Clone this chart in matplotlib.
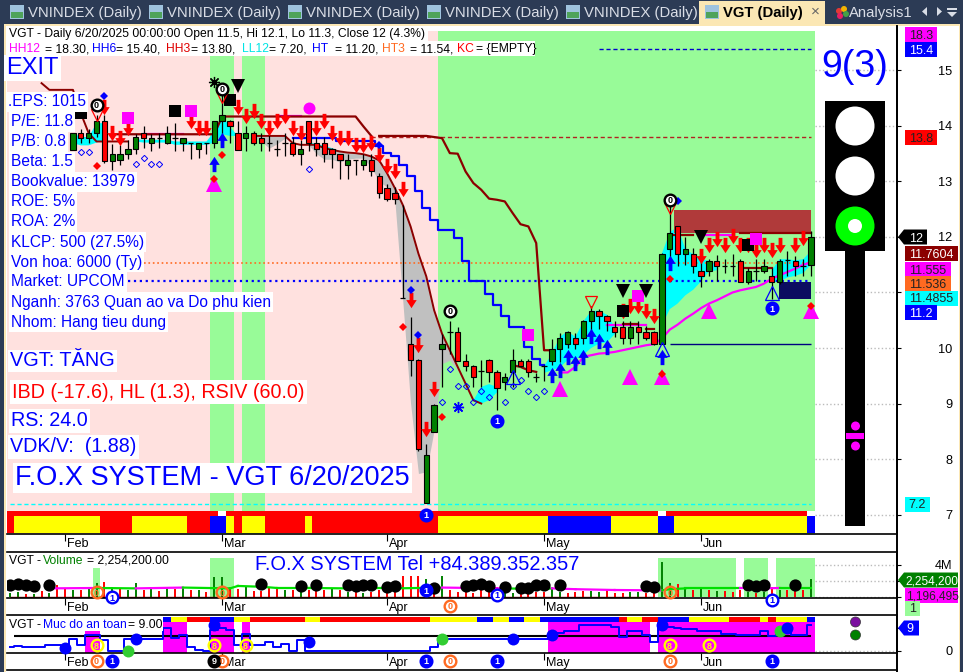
import matplotlib
matplotlib.use("Agg")
import matplotlib.pyplot as plt
import numpy as np
from matplotlib.patches import Rectangle, Circle, Polygon
from matplotlib.path import Path
from matplotlib.transforms import ScaledTranslation

plt.rcParams['font.family'] = ['Liberation Sans', 'DejaVu Sans']

W, H = 963, 672
GREEN_BG = '#98FB98'
PINK_BG = '#FFE1DF'
DARK_RED = '#8B0000'
NAVY = '#2C3B55'
CREAM = '#FBE7B4'

# candles, index 0 is the first bar not hidden by the text
opens = [13.57,13.87,13.79,13.87,14.08,13.37,13.38,13.49,13.58,13.88,13.69,13.78,13.69,13.78,13.69,13.69,13.58,13.69,13.69,14.08,
         14.08,13.88,13.79,13.88,13.79,13.69,13.58,13.69,13.69,13.49,14.08,13.69,13.69,13.58,13.49,13.29,13.38,13.29,13.38,13.09,
         12.89,12.79,10.90,10.08,9.78,7.20,8.48,9.99,10.28,10.28,9.77,9.68,9.59,9.78,9.57,9.38,9.57,9.77,9.77,9.48,
         9.67,9.77,9.99,10.08,10.18,10.18,10.48,10.67,10.58,10.38,10.38,10.18,10.38,10.28,10.28,10.08,11.78,12.19,11.69,11.69,
         11.38,11.38,11.57,11.48,11.48,11.57,11.18,11.38,11.38,11.29,11.18,11.58,11.57,11.48,11.50]
closes = [13.87,13.79,13.88,14.08,13.37,13.49,13.49,13.58,13.80,13.79,13.79,13.78,13.88,13.78,13.79,13.69,13.69,13.69,14.08,14.19,
          13.99,13.57,13.88,13.69,13.69,13.69,13.58,13.69,13.49,13.58,13.69,13.58,13.49,13.49,13.38,13.38,13.38,13.38,13.18,12.79,
          12.68,12.68,10.90,9.78,8.19,8.08,8.98,10.08,10.28,9.77,9.68,9.48,9.59,9.57,9.28,9.48,9.78,9.67,9.57,9.48,
          9.67,9.99,10.18,10.28,10.08,10.48,10.67,10.58,10.48,10.28,10.18,10.38,10.28,10.18,10.08,11.69,12.08,11.69,11.78,11.48,
          11.29,11.57,11.48,11.48,11.48,11.18,11.38,11.38,11.48,11.18,11.57,11.58,11.48,11.48,12.00]
highs = [13.87,13.95,13.95,14.20,14.20,13.68,13.65,13.75,13.85,14.00,13.85,13.87,14.00,14.05,13.79,13.70,13.69,13.70,14.08,14.55,
         14.10,14.08,14.00,13.90,13.88,13.85,13.75,13.87,13.80,13.75,14.08,13.80,13.80,13.60,13.50,13.49,13.38,13.50,13.50,13.15,
         12.95,12.90,12.58,10.56,9.80,8.28,9.00,10.26,10.48,10.38,9.90,9.70,9.78,9.80,9.60,9.55,9.98,9.80,9.80,9.55,
         9.70,10.17,10.27,10.30,10.27,10.50,10.75,10.70,10.60,10.48,10.48,10.48,10.48,10.40,10.30,11.72,12.55,12.20,12.00,11.80,
         11.60,11.60,11.68,11.60,11.70,11.60,11.45,11.60,11.60,11.45,11.60,11.75,11.65,11.60,12.10]
lows = [13.57,13.70,13.70,13.80,13.33,13.20,13.30,13.40,13.50,13.60,13.55,13.60,13.68,13.55,13.55,13.40,13.42,13.50,13.60,13.85,
        13.70,13.57,13.55,13.65,13.55,13.55,13.45,13.45,13.45,13.30,13.55,13.45,13.35,13.25,13.05,13.05,13.12,13.20,13.10,12.70,
        12.65,12.60,10.90,9.50,8.15,7.20,8.48,9.30,9.90,9.77,9.59,9.30,9.30,9.39,8.88,9.25,9.30,9.65,9.48,9.38,
        9.40,9.70,9.75,10.00,9.98,10.08,10.30,10.35,10.30,10.20,10.08,10.08,10.08,10.15,10.05,10.08,11.47,11.47,11.50,11.35,
        11.10,11.30,11.20,11.35,11.30,11.18,11.15,11.20,11.35,10.89,11.15,11.30,11.30,11.30,11.30]

# price lines
upper_i = list(range(5, 39))
upper_v = [13.85]*14 + [14.17]*18 + [13.99, 13.82]
upper2_i = [39,40,41,42,43,44,45,46,47,48,49,50,51,52,53,54,55,56,57,58,59,60,61]
upper2_v = [13.82,13.82,13.82,13.82,13.82,13.82,13.82,13.80,13.78,13.51,13.50,13.18,12.97,12.85,12.69,12.67,12.64,12.43,12.23,12.19,11.89,9.96,9.96]
early_i = [-4,-3,-2,-1,0,1,2,3,4,5,6,7]
early_v = [14.77,14.65,14.65,14.65,14.65,14.23,13.87,13.72,13.72,13.72,13.72,13.72]
ma_i = list(range(23, 53))
ma_v = [13.82,13.82,13.82,13.82,13.82,13.69,13.66,13.66,13.66,13.60,13.57,13.54,13.52,13.51,13.49,13.45,13.38,13.15,12.88,12.58,12.19,11.70,11.29,10.68,10.26,9.96,9.66,9.36,9.06,9.00]
gray_lo = [13.82,13.72,13.60,13.68,13.78,13.69,13.66,13.66,13.50,13.40,13.40,13.35,13.40,13.42,13.42,13.25,13.00,12.90,12.65,10.86,9.00,7.74,7.77,8.52,9.72,9.78,9.60,9.36,9.06,9.00]
short_lines = [([56,57,58,59],[9.69,9.66,9.60,9.57]),
               ([70,71,72],[10.44,10.44,10.44]),
               ([73,74],[10.35,10.35]),
               ([76,77,78,79],[12.04,12.04,12.04,12.04]),
               ([85,94],[12.07,12.07]),
               ([85,89],[11.45,11.45])]
blue_i = list(range(28, 61))
blue_v = [13.78,13.78,13.78,13.78,13.78,13.78,13.72,13.72,13.72,13.72,13.72,13.63,13.51,13.45,13.30,13.09,12.82,12.52,12.31,12.13,12.13,11.98,11.56,11.20,11.20,10.98,10.77,10.58,10.38,10.38,10.02,9.81,9.70]
mag_i = list(range(62, 95))
mag_v = [9.56,9.56,9.66,9.84,9.87,9.90,9.91,9.93,9.96,9.99,10.02,10.05,10.07,10.17,10.33,10.42,10.53,10.62,10.72,10.80,10.86,10.93,11.00,11.04,11.07,11.10,11.16,11.25,11.31,11.37,11.43,11.50,11.54]
mag_short = [([9,14],[13.86,13.86]), ([26,29],[14.17,14.17]), ([68,73],[10.41,10.41]), ([80,84],[12.04,12.04])]

# cyan band
cyan_i = [0,1,2,3,4,None,8,9,10,11,12,13,14,15,16,17,18,19,20,21,None,30,31,32,33,34,None,51,52,53,54,None,
          60,61,62,63,64,65,66,67,68,69,None,75,76,77,78,79,80,81,82,None,89,90,91,92,93,94]
cyan_top = [13.87,13.80,13.80,14.05,14.05,None,13.76,13.75,13.75,13.75,13.75,13.72,13.72,13.72,13.72,13.72,13.90,14.20,13.98,13.82,None,13.70,13.68,13.64,13.60,13.55,None,9.06,9.30,9.35,9.30,None,
            9.67,9.90,10.20,10.30,10.20,10.48,10.67,10.67,10.60,10.38,None,11.70,12.08,12.19,11.78,11.69,11.60,11.57,11.50,None,11.40,11.60,11.60,11.58,11.60,11.75]
cyan_bot = [13.69,13.65,13.65,13.70,13.75,None,13.72,13.70,13.70,13.70,13.70,13.66,13.66,13.66,13.66,13.66,13.70,13.85,13.82,13.82,None,13.66,13.58,13.50,13.55,13.55,None,9.04,9.00,9.06,9.20,None,
            9.55,9.60,9.65,9.78,9.80,9.88,10.00,10.08,10.10,10.25,None,10.40,10.70,10.80,10.95,11.05,11.20,11.38,11.40,None,11.18,11.20,11.27,11.30,11.35,11.50]

# markers
arrow_dn_i = [4,5,6,7,15,16,17,21,22,23,24,25,26,27,28,29,31,32,33,34,35,36,37,38,39,40,41,42,43,44,45,46,70,71,72,73,74,80,81,82,83,84,85,86,87,88,89,90,92,93]
arrow_dn_v = [14.35,13.87,13.78,13.96,14.08,13.96,13.96,14.35,14.17,14.27,14.08,13.96,14.08,14.17,13.96,13.87,13.96,14.08,13.87,13.78,13.78,13.66,13.66,13.69,13.48,13.27,13.18,12.86,10.87,10.06,8.55,9.26,10.66,10.76,10.76,10.67,10.57,11.66,11.86,11.96,11.86,12.02,11.86,11.86,11.77,11.86,11.77,11.86,11.86,11.98]
arrow_up_i = [18,19,61,62,63,64,65,66,67,68,75,76]
arrow_up_v = [13.32,13.75,9.51,9.61,9.83,9.73,9.83,10.21,10.13,10.02,9.83,11.53]
square_k_i = [1,13,20,70,86]
square_k_v = [14.23,14.27,14.47,10.67,11.86]
square_m_i = [7,15,58,72,87]
square_m_v = [14.15,14.26,10.23,10.94,11.97]
tri_m_i = [18,62,71,75,81,94]
tri_m_v = [12.95,9.26,9.47,9.47,10.67,10.67]
tri_k_i = [21,70,73,80]
tri_k_v = [14.72,11.03,11.03,12.00]
tri_r_i = [3,19,66,76]
tri_r_v = [14.20,14.52,10.82,12.53]
tri_b_i = [56,75,89]
tri_b_v = [9.48,9.98,10.99]
dia_r_i = [3,18,19,42,47,75,76,94]
dia_r_v = [13.27,13.05,13.47,10.37,8.76,9.54,11.24,10.75]
dia_b_i = [4,39,43,44,77]
dia_b_v = [14.54,13.65,11.05,10.23,12.65]
open_i = [1,2,8,9,10,11,30,47,48,49,50,51,52,53,55,56,57,58,59,60]
open_v = [13.53,13.53,13.32,13.43,13.32,13.32,13.23,9.03,9.62,9.32,9.32,9.03,9.23,9.12,9.03,9.32,9.42,9.23,9.12,9.23]
zero_i = [3,19,48,76]
zero_v = [14.38,14.67,10.67,12.67]
one_i = [45,54,89]
one_v = [7.00,8.69,10.72]

# bottom strip of the price pane, run edges are between bars
band_edges = [-8.4,-7.5,3.5,7.5,14.5,17.5,19.5,20.5,21.5,24.5,29.5,30.5,46.5,60.5,68.5,74.5,76.5,93.5,94.5]
band_colors = ['red','yellow','red','yellow','red','blue','yellow','red','yellow','red','yellow','red','yellow','blue','yellow','blue','yellow','blue']
white_gaps = [(18.5,19.5),(74.5,75.5),(93.5,94.5)]

# volume
vol = [.5,.6,.4,.4,.8,.5,1.5,1.0,.9,.9,1.2,1.8,1.9,1.3,1.0,.9,1.8,.9,1.3,.8,1.2,1.0,1.2,.9,.9,.7,2.5,2.5,1.3,1.0,1.3,.8,.8,1.2,1.2,.9,.9,.6,.9,.8,.9,1.1,.9,.7,.6,.5,.6,.9,.9,.9,
       2.6,2.6,2.6,2.3,1.0,2.6,.9,.7,.7,.5,.9,1.0,1.3,.6,.5,.6,.5,.7,.7,1.0,.7,.5,.6,.8,.8,.7,.9,.5,.5,.7,.7,.5,.7,4.4,1.8,1.7,1.2,.9,1.0,.9,.8,.8,.7,.9,.7,.5,.7,1.3,.9,.9,.9,.9,2.25]
vol_green = [-8,-7,-5,-3,0,2,3,5,7,8,10,12,14,16,18,19,22,27,29,33,35,37,45,47,55,56,61,62,66,67,71,72,75,76,78,80,82,86,88,90,94]
vol_ma_i = [-3,3,8,14,20,21,24,26,30,35,41,47,55,60,61,64,69,75,76,78,85,88,90,94]
vol_ma_v = [1.1,1.15,1.1,1.2,1.1,1.4,1.3,1.15,1.15,1.1,1.1,1.2,1.1,1.0,1.1,1.0,.9,.85,1.0,1.1,1.1,1.1,1.15,1.15]
vol_ma_pink = [0,2,11,14,15,16,20,21]
black_i = [-8,-7,-6,-5,-3,24,29,31,35,36,37,38,40,41,46,50,51,52,53,55,57,58,59,60,62,73,74,86,87,88,92]
black_v = [1.5,1.7,1.5,1.4,1.5,1.6,1.4,1.5,1.5,1.4,1.5,1.5,1.3,1.4,1.1,1.4,1.5,1.6,1.4,1.3,1.2,1.2,1.5,1.5,1.5,1.4,1.3,1.5,1.4,1.5,1.5]
vol_spans = [(2.5,3.5,3.6),(17.5,20.5,4.8),(74.5,84.5,4.8),(85.5,88.5,4.8),(89.5,94.5,4.8)]

# safety level pane
safe = [1.4,1.9,1.4,1.4,1.4,2.3,2.3,1.4,4.5,2.3,6.2,6.2,4.3,0,0,4.5,4.5,4.5,4.5,4.5,8.9,4.9,6.2,1.4,.4,0,8.2,8.9,8.2,2.3,6.6,2.3,2.3,3.6,1.7,2.6,0,4.3,0,
        0,0,0,0,0,0,0,0,0,0,0,0,0,0,0,1.4,4.8,4.8,4.8,4.8,4.8,4.8,4.8,4.8,4.8,4.8,4.8,4.8,4.8,4.8,6.2,7.2,8,8,10.2,10.2,10.2,10.2,9.3,5.6,8,8,6.2,3.6,10.8,9.3,8.9,8.5,8.5,8,8,8,6.5,6.5,6.2,6.2,6.2,8,5.9,6.5,8.9,6.2,6.2,10.2]
safe_spans = [(1.5,3.5),(11.5,14.5),(17.5,20.5),(21.5,22.5),(60.5,73.5),(74.5,94.5)]
safe_edges = [11.5,12.5,14.5,17.5,20.5,22.5,29.5,31.5,45.5,51.5,53.5,55.5,57.5,59.5,69.5,70.5,72.5,74.5,78.5,83.5,87.5,88.5,89.5,93.5,94.5]
safe_colors = ['blue','yellow','red','blue','yellow','red','yellow','red','yellow','blue','yellow','blue','yellow','blue','red','yellow','red','blue','yellow','red','yellow','red','yellow','blue']
safe_blue_i = [-1,8,18,30,56,61,75,91]
safe_blue_v = [1.3,4.7,10.2,3.4,4.7,6.2,10.2,8.9]
safe_green_i = [7,47,90]
safe_green_v = [0,4.7,7.8]
eight_i = [3,18,22,76,81]

price_ticks = [7,8,9,10,11,12,13,14,15]
price_labels = ['7','8','9','10','','12','13','14','15']  # the 11 is covered by the value tags
month_ticks = [-1,19,40,60,80]
month_labels = ['Feb','Mar','Apr','May','Jun']

fig = plt.figure(figsize=(W/100, H/100), dpi=100, facecolor='white')

def add_pane(top, bottom):
    return fig.add_axes([7/W, 1-bottom/H, (897-7)/W, (bottom-top)/H])

ax1 = add_pane(26, 534)
ax2 = add_pane(552, 598)
ax3 = add_pane(615, 653)
XMIN, XMAX = -8.4, 104.95
label_shift = ScaledTranslation(2/100, 0, fig.dpi_scale_trans)
for a in (ax1, ax2, ax3):
    a.set_xlim(XMIN, XMAX)
    a.spines['left'].set_visible(False)
    a.spines['right'].set_linewidth(1.4)
    a.spines['bottom'].set_linewidth(1.2)
    a.spines['top'].set_linewidth(1.2)
    a.set_xticks(month_ticks)
    a.set_xticklabels(month_labels, ha='left', fontsize=9)
    a.tick_params(axis='x', length=5, width=0.8, pad=-2)
    for lab in a.get_xticklabels():
        lab.set_transform(lab.get_transform() + label_shift)
    a.yaxis.tick_right()
    a.tick_params(axis='y', length=3, width=0.8, pad=37, labelsize=9.2)
ax1.spines['top'].set_visible(False)

# --- price pane
ax1.set_ylim(6.65, 15.80)
ax1.set_yticks(price_ticks)
ax1.set_yticklabels(price_labels, ha='right')
ax1.hlines(price_ticks, 94.5, XMAX, color='#BBBBBB', lw=1, linestyles=':', zorder=1)
top_bg = 15.71
ax1.axvspan(XMIN, 94.5, ymin=0, ymax=(top_bg-6.65)/(15.80-6.65), color=GREEN_BG, lw=0, zorder=0)
for a0, a1 in [(XMIN,17.5),(20.5,21.5),(24.5,46.5)]:
    ax1.axvspan(a0, a1, ymin=0, ymax=(top_bg-6.65)/(15.80-6.65), color=PINK_BG, lw=0, zorder=0)

def to_nan(vals):
    return np.array([np.nan if v is None else v for v in vals], dtype=float)

ax1.fill_between(to_nan(cyan_i), to_nan(cyan_bot), to_nan(cyan_top), color='cyan', lw=0, zorder=2)
ax1.fill_between(ma_i, gray_lo, ma_v, color='#C0C0C0', lw=0, zorder=2)

ax1.hlines(15.38, 67, 94, color='#0000CC', lw=1, linestyles=(0,(3,2)), zorder=2)
ax1.hlines(13.8, 38, 94, color='#B22222', lw=1, linestyles=(0,(3,2)), zorder=2)
ax1.hlines(11.54, 9, 94, color='#FF6A21', lw=1.2, linestyles=':', zorder=2)
ax1.hlines(11.2, 7, 94, color='#0000FF', lw=1.6, linestyles=':', zorder=2)
ax1.hlines(7.19, -8, 94, color='cyan', lw=1, linestyles=(0,(3,2)), zorder=2)
ax1.hlines(10.08, 76, 94, color='#000080', lw=1, zorder=2)

ax1.add_patch(Rectangle((76.5, 12.07), 17.5, 0.42, fc='#B03A3A', ec='none', zorder=2))
ax1.add_patch(Rectangle((89.9, 10.89), 4.1, 0.29, fc='#0C0C60', ec='none', zorder=3))

ax1.plot(mag_i, mag_v, color='magenta', lw=1.6, zorder=3)
for xs, ys in mag_short:
    ax1.plot(xs, ys, color='magenta', lw=1.6, zorder=3)
ax1.plot(blue_i, blue_v, color='#0000FF', lw=1.6, drawstyle='steps-mid', zorder=3)
ax1.plot(upper_i, upper_v, color=DARK_RED, lw=1.6, zorder=3)
ax1.plot(upper2_i, upper2_v, color=DARK_RED, lw=1.6, zorder=3)
ax1.plot(early_i, early_v, color=DARK_RED, lw=1.4, zorder=3)
ax1.plot(ma_i, ma_v, color=DARK_RED, lw=1.4, zorder=3)
for xs, ys in short_lines:
    ax1.plot(xs, ys, color=DARK_RED, lw=1.6, zorder=3)

# strip
for k, c in enumerate(band_colors):
    ax1.broken_barh([(band_edges[k], band_edges[k+1]-band_edges[k])], (6.67, 0.30), facecolors=c, zorder=4)
ax1.broken_barh([(XMIN, 94.5-XMIN)], (6.97, 0.09), facecolors='red', zorder=4)
for a0, a1 in white_gaps:
    ax1.broken_barh([(a0, a1-a0)], (6.97, 0.09), facecolors='white', zorder=4)

# candles
idx = np.arange(len(opens))
op = np.array(opens); cl = np.array(closes)
ax1.vlines(idx, lows, highs, color='black', lw=0.9, zorder=5)
body_col = np.where(cl >= op, '#008000', '#FF0000')
solid = op != cl
ax1.bar(idx[solid], np.abs(cl-op)[solid], bottom=np.minimum(op, cl)[solid], width=0.68,
        color=body_col[solid], edgecolor='black', linewidth=0.8, zorder=5)
ax1.hlines(op[~solid], idx[~solid]-0.35, idx[~solid]+0.35, color='black', lw=0.9, zorder=5)

arrow_down = Path([(-.25,1),(.25,1),(.25,.05),(.68,.05),(0,-1),(-.68,.05),(-.25,.05),(-.25,1)], closed=True)
arrow_up = Path([(-.25,-1),(.25,-1),(.25,-.05),(.68,-.05),(0,1),(-.68,-.05),(-.25,-.05),(-.25,-1)], closed=True)
ax1.plot(arrow_dn_i, arrow_dn_v, ls='', marker=arrow_down, ms=11, color='#FF0000', mew=0, zorder=6)
ax1.plot(arrow_up_i, arrow_up_v, ls='', marker=arrow_up, ms=11, color='#0000FF', mew=0, zorder=6)
ax1.plot(square_k_i, square_k_v, ls='', marker='s', ms=8.6, color='black', mew=0, zorder=6)
ax1.plot(square_m_i, square_m_v, ls='', marker='s', ms=8.6, color='magenta', mew=0, zorder=6)
ax1.plot([30], [14.32], ls='', marker='o', ms=8.6, color='magenta', mew=0, zorder=6)
ax1.plot(tri_m_i, tri_m_v, ls='', marker='^', ms=11, color='magenta', mew=0, zorder=6)
ax1.plot(tri_k_i, tri_k_v, ls='', marker='v', ms=10, color='black', mew=0, zorder=6)
ax1.plot(tri_r_i, tri_r_v, ls='', marker='v', ms=9, mfc='none', mec='#FF0000', mew=0.9, zorder=6)
ax1.plot(tri_b_i, tri_b_v, ls='', marker='^', ms=10, mfc='none', mec='#0000FF', mew=0.9, zorder=6)
ax1.plot(dia_r_i, dia_r_v, ls='', marker='D', ms=3.8, color='#FF0000', mew=0, zorder=6)
ax1.plot(dia_b_i, dia_b_v, ls='', marker='D', ms=3.8, color='#0000FF', mew=0, zorder=6)
ax1.plot(open_i, open_v, ls='', marker='D', ms=3.2, mfc='none', mec='#0000FF', mew=0.7, zorder=6)
ax1.plot([18], [14.80], ls='', marker=(8,2,0), ms=8, color='black', mew=0.9, zorder=6)
ax1.plot([49], [8.94], ls='', marker=(8,2,0), ms=8, color='#0000FF', mew=1.0, zorder=6)

def badge(a, x, y, txt, fc, ec, tc, ms=8.4):
    a.plot([x], [y], ls='', marker='o', ms=ms, mfc=fc, mec=ec, mew=1.7, zorder=7, clip_on=False)
    a.text(x, y, txt, ha='center', va='center_baseline', fontsize=6.5, fontweight='bold', color=tc, zorder=8, clip_on=False)

for x, y in zip(zero_i, zero_v):
    badge(ax1, x, y, '0', 'white', 'black', 'black')
for x, y in zip(one_i, one_v):
    badge(ax1, x, y, '1', '#0000FF', '#0000FF', 'white')

# --- volume pane
ax2.set_ylim(-0.09, 5.6)
ax2.set_yticks([0, 2, 4])
ax2.set_yticklabels(['', '', '4M'], ha='right')
ax2.hlines([0, 2, 4], 94.5, XMAX, color='#BBBBBB', lw=1, linestyles=':', zorder=1)
for a0, a1, top in vol_spans:
    ax2.add_patch(Rectangle((a0, 0), a1-a0, top, fc=GREEN_BG, ec='none', zorder=0))
vol_x = np.arange(-8, -8+len(vol))
vol_c = ['#008000' if v in vol_green else '#FF0000' for v in vol_x]
ax2.vlines(vol_x, 0, vol, colors=vol_c, lw=1.4, zorder=2)
ax2.hlines(0, -8, 74, color=DARK_RED, lw=1, zorder=2)
for k in range(len(vol_ma_i)-1):
    c = 'magenta' if k in vol_ma_pink else '#00E000'
    ax2.plot(vol_ma_i[k:k+2], vol_ma_v[k:k+2], color=c, lw=1.6, zorder=3)
ax2.plot(black_i, black_v, ls='', marker='o', ms=8.8, color='black', mew=0, zorder=4)
for x in [3, 19, 76]:
    badge(ax2, x, 0.6, '0', 'none', '#FF6A21', '#FF6A21')
badge(ax2, 48, -1.05, '0', 'none', '#FF6A21', '#FF6A21')
badge(ax2, 5, 0.0, '1', 'white', '#0000FF', '#0000FF')
badge(ax2, 45, 0.85, '1', '#0000FF', '#0000FF', 'white')
badge(ax2, 54, 0.3, '1', 'white', '#0000FF', '#0000FF')
badge(ax2, 89, -0.3, '1', 'white', '#0000FF', '#0000FF')

# --- safety pane
ax3.set_ylim(-0.8, 14.1)
ax3.set_yticks([0, 9])
ax3.set_yticklabels(['0', ''], ha='right')
ax3.hlines([0], 94.5, XMAX, color='#BBBBBB', lw=1, linestyles=':', zorder=1)
for a0, a1 in safe_spans:
    ax3.add_patch(Rectangle((a0, -0.8), a1-a0, 12.1, fc='magenta', ec='none', zorder=0))
for k, c in enumerate(safe_colors):
    ax3.broken_barh([(safe_edges[k], safe_edges[k+1]-safe_edges[k])], (11.3, 2.0), facecolors=c, zorder=1)
ax3.hlines(5.9, -7.5, 94, color='black', lw=1.5, zorder=2)
safe_x = np.arange(-8, -8+len(safe))
ax3.plot(safe_x, safe, color='#0000FF', lw=1.4, drawstyle='steps-mid', zorder=3)
ax3.plot(safe_blue_i, safe_blue_v, ls='', marker='o', ms=8.6, color='#0000FF', mew=0, zorder=5, clip_on=False)
ax3.plot(safe_green_i, safe_green_v, ls='', marker='o', ms=8.6, color='#32CD32', mew=0, zorder=4, clip_on=False)
for x in eight_i:
    badge(ax3, x, 2.3, '8', 'none', 'yellow', 'yellow')
for x in [3, 19, 48, 76]:
    badge(ax3, x, -3.8, '0', 'white', '#FF6A21', '#FF6A21')
for x in [5, 45, 54, 89]:
    badge(ax3, x, -3.8, '1', '#0000FF', '#0000FF', 'white')
badge(ax3, 18, -3.8, '9', 'black', 'black', 'white')

# --- window furniture and labels, in pixels
ov = fig.add_axes([0, 0, 1, 1], zorder=20)
ov.set_xlim(0, W)
ov.set_ylim(H, 0)
ov.axis('off')

def box(x0, y0, x1, y1, fc, z=1):
    ov.add_patch(Rectangle((x0, y0), x1-x0, y1-y0, fc=fc, ec='none', zorder=z))

box(0, 0, W, 24, NAVY)
box(0, 0, 4, H, NAVY)
box(960, 0, W, H, NAVY)
box(4, 24, 960, 26, CREAM)
box(4, 24, 6, H, CREAM)
box(958.5, 24, 960, H, CREAM)
box(699, 1, 825, 24, CREAM)
ov.plot([897, 897], [26, 672], color='black', lw=1.4, zorder=2)
ov.plot([7, 897], [670, 670], color='black', lw=1.2, zorder=2)

for tx in [28, 167, 306, 445, 584]:
    box(tx-18, 5, tx-4, 19, '#9FC3DE', 2)
    box(tx-17, 12, tx-5, 18, '#4FA35A', 3)
    ov.text(tx, 13, 'VNINDEX (Daily)', color='#D9DDE6', fontsize=10.7, va='center', zorder=4)
box(705, 5, 719, 19, '#9FC3DE', 2)
box(706, 12, 718, 18, '#4FA35A', 3)
ov.text(723, 13, 'VGT (Daily)', color='black', fontsize=10.7, fontweight='bold', va='center', zorder=4)
ov.text(815, 12, '×', color='#666666', fontsize=11, ha='center', va='center', zorder=4)
for cx, cy, c in [(839, 11, '#E53935'), (844, 9, '#F4B400'), (846, 14, '#43A047'), (840, 16, '#E91E63')]:
    ov.add_patch(Circle((cx, cy), 3, fc=c, ec='none', zorder=3))
ov.text(849, 13, 'Analysis1', color='#D9DDE6', fontsize=10.7, va='center', zorder=4)
ov.add_patch(Polygon([[927, 7], [927, 16], [922, 11.5]], fc='#D9DDE6', ec='none', zorder=3))
ov.add_patch(Polygon([[937, 7], [937, 16], [942, 11.5]], fc='#D9DDE6', ec='none', zorder=3))
box(947, 8, 957, 10, '#D9DDE6', 3)
ov.add_patch(Polygon([[947, 12], [957, 12], [952, 17]], fc='#D9DDE6', ec='none', zorder=3))

box(7, 26, 428, 41, 'white')
box(7, 41, 535, 56, 'white')
ov.text(9, 33.5, 'VGT - Daily 6/20/2025 00:00:00 Open 11.5, Hi 12.1, Lo 11.3, Close 12 (4.3%)',
        fontsize=8.7, va='center', color='black', zorder=3)
legend_parts = [('HH12',9,'magenta'),('= 18.30,',45,'black'),('HH6',92,'#0000FF'),('= 15.40,',116,'black'),
                ('HH3',166,'#E00000'),('= 13.80,',191,'black'),('LL12',242,'#00E5E5'),('= 7.20,',269,'black'),
                ('HT',312,'#0000FF'),('= 11.20,',335,'black'),('HT3',382,'#FF6A21'),('= 11.54,',410,'black'),
                ('KC',457,'#FF0000'),('= {EMPTY}',476,'black')]
for txt, x, c in legend_parts:
    ov.text(x, 49, txt, fontsize=8.7, va='center', color=c, zorder=3)

white = dict(fc='white', ec='none', pad=1.5)
ov.text(6, 68, 'EXIT', fontsize=17, va='center', color='#0000FF', bbox=white, zorder=3)
info = ['.EPS: 1015','P/E: 11.8','P/B: 0.8','Beta: 1.5','Bookvalue: 13979','ROE: 5%','ROA: 2%','KLCP: 500 (27.5%)',
        'Von hoa: 6000 (Ty)','Market: UPCOM','Nganh: 3763 Quan ao va Do phu kien','Nhom: Hang tieu dung']
for k, s in enumerate(info):
    ov.text(8 if k == 0 else 11, 102+k*20, s, fontsize=11.2, va='center', color='#0000FF', bbox=white, zorder=3)
ov.text(10, 361, 'VGT: TĂNG', fontsize=14.3, va='center', color='#0000FF', bbox=white, zorder=3)
ov.text(12, 392, 'IBD (-17.6), HL (1.3), RSIV (60.0)', fontsize=14.2, va='center', color='#FF0000', bbox=white, zorder=3)
ov.text(11, 421, 'RS: 24.0', fontsize=14.2, va='center', color='#0000FF', bbox=white, zorder=3)
ov.text(10, 447, 'VDK/V:  (1.88)', fontsize=14.2, va='center', color='#0000FF', bbox=white, zorder=3)
ov.text(15, 478, 'F.O.X SYSTEM - VGT 6/20/2025', fontsize=19.5, va='center', color='#0000FF', bbox=white, zorder=3)
ov.text(255, 565, 'F.O.X SYSTEM Tel +84.389.352.357', fontsize=14.4, va='center', color='#0000FF', zorder=3)

ov.text(9, 560.5, 'VGT - ', fontsize=8.7, va='center', color='black', zorder=3)
ov.text(43, 560.5, 'Volume', fontsize=8.7, va='center', color='#008000', zorder=3)
ov.text(87, 560.5, '= 2,254,200.00', fontsize=8.7, va='center', color='black', zorder=3)
box(7, 617, 163, 631, 'white', 2)
ov.text(9, 624.5, 'VGT - ', fontsize=8.7, va='center', color='black', zorder=3)
ov.text(43, 624.5, 'Muc do an toan', fontsize=8.7, va='center', color='#0000FF', zorder=3)
ov.text(128, 624.5, '= 9.00', fontsize=8.7, va='center', color='black', zorder=3)

ov.text(855, 67, '9(3)', fontsize=27, ha='center', va='center', color='#0000FF', zorder=3)
box(825, 101, 885, 251, 'black')
box(845, 251, 865, 526, 'black')
for cy, c in [(126, 'white'), (176, 'white'), (226, '#00FF00')]:
    ov.add_patch(Circle((855, cy), 19.5, fc=c, ec='none', zorder=2))
ov.add_patch(Circle((855, 226), 7, fc='white', ec='none', zorder=3))
ov.add_patch(Circle((855.5, 426), 4.5, fc='magenta', ec='none', zorder=3))
ov.add_patch(Circle((855.5, 446), 4.5, fc='magenta', ec='none', zorder=3))
box(846, 433, 864, 439, 'magenta', 3)
ov.add_patch(Circle((855.5, 622), 5, fc='#7B0FA0', ec='#333333', lw=0.5, zorder=3))
ov.add_patch(Circle((855.5, 635), 5, fc='#008000', ec='#333333', lw=0.5, zorder=3))

def tag(yc, x1, txt, fc, tc, pointer=False, x0=905, tx=None, fs=9):
    h = 7.5
    if pointer:
        ov.add_patch(Polygon([[898, yc], [904, yc-h], [x1, yc-h], [x1, yc+h], [904, yc+h]], fc=fc, ec='none', zorder=5))
    else:
        box(x0, yc-h, x1, yc+h, fc, 5)
    ov.text(tx if tx else (x0+x1)/2, yc, txt, fontsize=fs, ha='center' if not tx else 'left',
            va='center_baseline', color=tc, zorder=6)

tag(34.5, 937, '18.3', 'magenta', '#222222')
tag(49.5, 937, '15.4', '#0000FF', 'white')
tag(137.5, 937, '13.8', '#FF0000', '#222222')
tag(237, 927, '12', 'black', 'white', pointer=True, tx=909)
tag(253, 958, '11.7604', DARK_RED, 'white')
tag(269, 951, '11.555', 'magenta', '#222222')
tag(283, 951, '11.536', '#FF6A21', '#222222')
tag(298, 958, '11.4855', 'cyan', '#222222')
tag(312.5, 937, '11.2', '#0000FF', 'white')
tag(504, 930, '7.2', 'cyan', '#222222')
tag(580, 958, '2,254,200', '#008000', 'white', pointer=True, tx=905, fs=8.6)
tag(595, 958, '1,196,495', 'magenta', '#222222', tx=906, fs=8.6)
tag(608, 920, '1', GREEN_BG, '#222222')
tag(628, 919, '9', '#0000FF', 'white', pointer=True, tx=906)

fig.savefig('out.png', dpi=100)
